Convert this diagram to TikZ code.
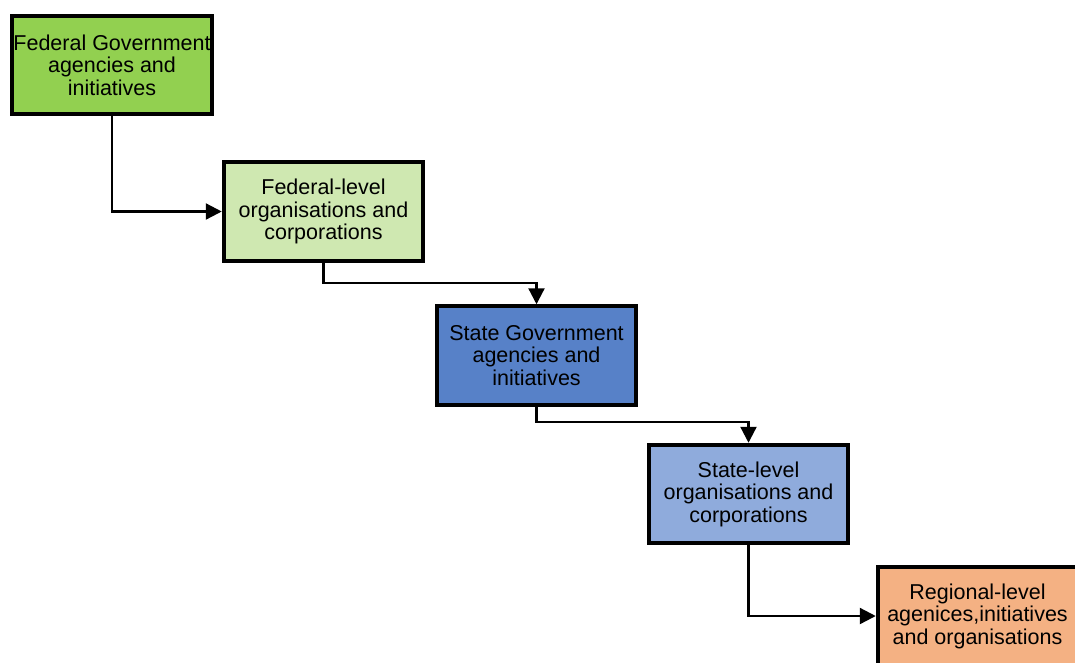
\documentclass[tikz,border=0pt]{standalone}
\usepackage{fontspec}
\setmainfont{Liberation Sans}
\usetikzlibrary{arrows.meta}
\definecolor{cA}{HTML}{92D050}
\definecolor{cB}{HTML}{CFE8B1}
\definecolor{cC}{HTML}{5781C8}
\definecolor{cD}{HTML}{8FABDC}
\definecolor{cE}{HTML}{F4B183}
\begin{document}
\begin{tikzpicture}[x=1pt,y=-1pt,
  box/.style={draw=black,line width=4pt,minimum width=199.5pt,minimum height=98.5pt,
    inner sep=0pt,align=center,font=\fontsize{21.5}{22.5}\selectfont},
  conn/.style={line width=2.3pt,-{Triangle[length=16pt,width=16pt]}}]
\useasboundingbox (0,0) rectangle (1075,662);
\clip (0,0) rectangle (1075,662);
\node[box,fill=cA] (b1) at (112,65) {Federal Government\\agencies and\\initiatives};
\node[box,fill=cB] (b2) at (323.5,211.5) {Federal-level\\organisations and\\corporations};
\node[box,fill=cC] (b3) at (536.5,355.5) {State Government\\agencies and\\initiatives};
\node[box,fill=cD] (b4) at (748.5,494) {State-level\\organisations and\\corporations};
\node[box,fill=cE] (b5) at (977.5,616) {Regional-level\\agenices,initiatives\\and organisations};
\draw[conn] (b1.south) |- (b2.west);
\draw[conn] (b2.south) -- ++(0,20) -| (b3.north);
\draw[conn] (b3.south) -- ++(0,15) -| (b4.north);
\draw[conn] (b4.south) |- (b5.west);
\end{tikzpicture}
\end{document}
